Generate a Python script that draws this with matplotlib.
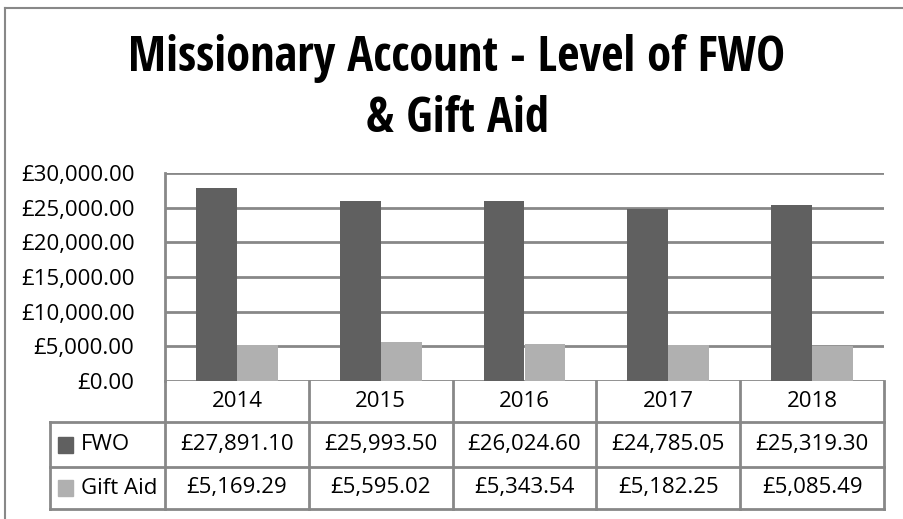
import matplotlib.pyplot as plt
import numpy as np
from matplotlib.patches import Rectangle

years = ["2014", "2015", "2016", "2017", "2018"]
fwo = [27891.10, 25993.50, 26024.60, 24785.05, 25319.30]
gift_aid = [5169.29, 5595.02, 5343.54, 5182.25, 5085.49]
series_names = ["FWO", "Gift Aid"]
colors = ["#606060", "#b0b0b0"]
y_ticks = [0, 5000, 10000, 15000, 20000, 25000, 30000]
title_lines = ["Missionary Account - Level of FWO", "& Gift Aid"]

W, H = 904, 519
GRID = "#888888"
plt.rcParams['font.family'] = ['Open Sans', 'DejaVu Sans']


def fx(px):
    return px / W


def fy(py):
    return 1 - py / H


def money(v):
    return f"£{v:,.2f}"


fig = plt.figure(figsize=(W / 100, H / 100), dpi=100)

# outer chart border
fig.add_artist(plt.Line2D([fx(5), fx(5)], [fy(8), 0], color=GRID, lw=1.5))
fig.add_artist(plt.Line2D([fx(5), 1], [fy(8), fy(8)], color=GRID, lw=1.5))

for line, base in zip(title_lines, [71, 132]):
    fig.text(fx(457), fy(base), line, ha="center", va="baseline", fontsize=35,
             fontweight="bold", family=["Open Sans Condensed", "DejaVu Sans"])

left, right, top, bottom = 165, 884, 173, 381
ax = fig.add_axes([fx(left), fy(bottom), fx(right - left), (bottom - top) / H])

x = np.arange(len(years))
bw = 0.285
ax.bar(x - bw / 2, fwo, bw, color=colors[0], zorder=3)
ax.bar(x + bw / 2, gift_aid, bw, color=colors[1], zorder=3)

ax.set_xlim(-0.5, len(years) - 0.5)
ax.set_ylim(0, 30000)
ax.set_yticks(y_ticks)
ax.set_yticklabels([money(v) for v in y_ticks], fontsize=16)
ax.tick_params(axis="y", length=0, pad=22)
ax.set_xticks([])
for t in y_ticks:
    ax.axhline(t, color=GRID, lw=2, zorder=1)
for s in ["top", "right", "bottom"]:
    ax.spines[s].set_visible(False)
ax.spines["left"].set_color(GRID)
ax.spines["left"].set_linewidth(2)

# data table below the plot
row_edges = [381, 422, 467, 509]
tax = fig.add_axes([fx(left), fy(row_edges[-1]), fx(right - left),
                    (row_edges[-1] - row_edges[0]) / H])
tax.set_xlim(-0.5, len(years) - 0.5)
tax.set_ylim(row_edges[-1], row_edges[0])
tax.axis("off")

legend_left = -0.5 - (left - 50) / 144
kw = dict(color=GRID, lw=2, clip_on=False, solid_capstyle="projecting")
for i in range(len(years) + 1):
    tax.plot([i - 0.5, i - 0.5], [row_edges[0], row_edges[-1]], **kw)
for r in row_edges[1:]:
    tax.plot([legend_left, len(years) - 0.5], [r, r], **kw)
tax.plot([legend_left, legend_left], [row_edges[1], row_edges[-1]], **kw)

for i, yr in enumerate(years):
    tax.text(i, (row_edges[0] + row_edges[1]) / 2, yr, ha="center", va="center", fontsize=16)

for r, (name, vals, c) in enumerate(zip(series_names, [fwo, gift_aid], colors)):
    yc = (row_edges[r + 1] + row_edges[r + 2]) / 2
    for i, v in enumerate(vals):
        tax.text(i, yc, money(v), ha="center", va="center", fontsize=16)
    sx = legend_left + 8 / 144
    tax.add_patch(Rectangle((sx, yc - 8), 15 / 144, 16, color=c, clip_on=False))
    tax.text(legend_left + 31 / 144, yc, name, ha="left", va="center", fontsize=16)

fig.savefig("out.png", dpi=100)
